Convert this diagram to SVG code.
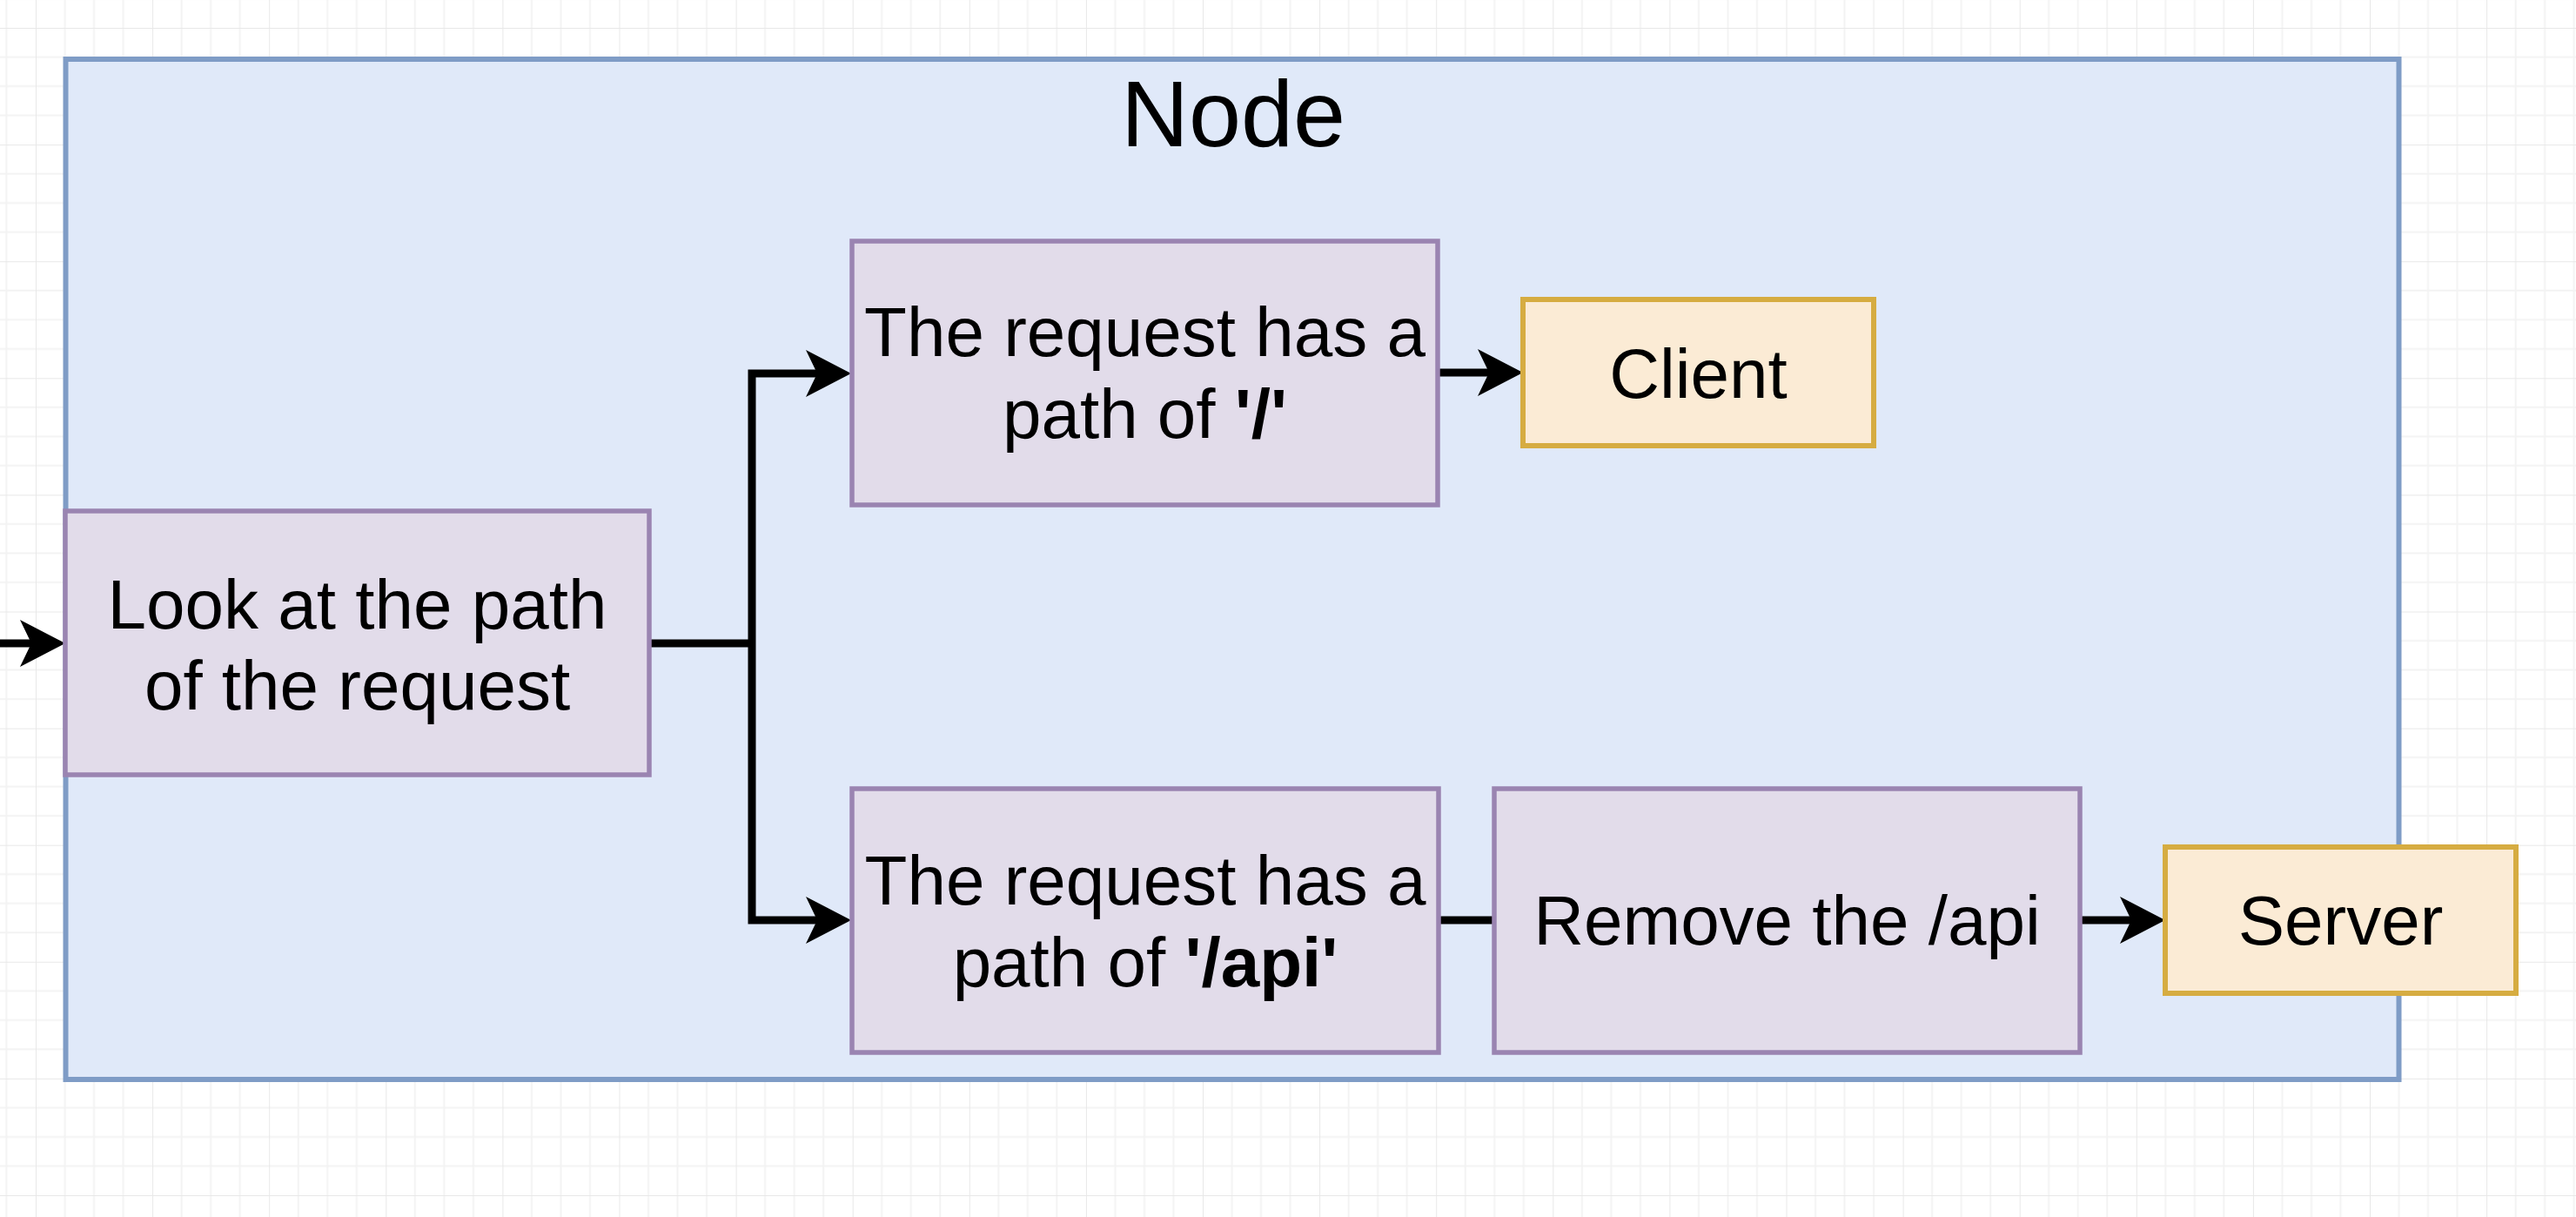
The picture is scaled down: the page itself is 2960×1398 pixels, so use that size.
<svg xmlns="http://www.w3.org/2000/svg" width="2960" height="1398" viewBox="0 0 2960 1398">
<style>
.lbl{font-family:"Liberation Sans",Arial,Helvetica,sans-serif;font-size:80px;fill:#000;text-anchor:middle}
.title{font-family:"Liberation Sans",Arial,Helvetica,sans-serif;font-size:108px;fill:#000;text-anchor:middle}
.proc{fill:#e2dcea;stroke:#9a84b1;stroke-width:5.5}
.term{fill:#fbebd5;stroke:#d6ac41;stroke-width:6}
.cont{fill:#e0e9f9;stroke:#7f9cc6;stroke-width:6}
.edge{fill:none;stroke:#000;stroke-width:9;stroke-linejoin:miter}
.b{font-weight:bold}
</style>
<defs>
<pattern id="grid" patternUnits="userSpaceOnUse" x="41" y="32" width="134.1" height="134.1">
<path d="M33.525 0V134.1M67.05 0V134.1M100.575 0V134.1M0 33.525H134.1M0 67.05H134.1M0 100.575H134.1" stroke="#f3f3f3" stroke-width="2" fill="none"/>
<path d="M0 0V134.1M0 0H134.1" stroke="#e8e8e8" stroke-width="2" fill="none"/>
</pattern>
<marker id="arr" viewBox="0 0 52 54" markerUnits="userSpaceOnUse" markerWidth="52" markerHeight="54" refX="13" refY="27" orient="auto">
<path d="M0,0 L52,27 L0,54 L13,27 Z" fill="#000"/>
</marker>
</defs>
<rect width="2960" height="1398" fill="#ffffff"/>
<rect width="2960" height="1398" fill="url(#grid)"/>

<g id="node-container">
<rect class="cont" x="75.5" y="68" width="2681" height="1172"/>
<text class="title" x="1417" y="168">Node</text>
</g>

<g id="connectors">
<path class="edge" d="M0,739 H36" marker-end="url(#arr)"/>
<path class="edge" d="M746,739 H864"/>
<path class="edge" d="M864,739 V429 H939" marker-end="url(#arr)"/>
<path class="edge" d="M864,739 V1057 H939" marker-end="url(#arr)"/>
<path class="edge" d="M1652,428 H1711" marker-end="url(#arr)"/>
<path class="edge" d="M1653,1057 H1717"/>
<path class="edge" d="M2390,1057 H2449" marker-end="url(#arr)"/>
</g>

<g id="look">
<rect class="proc" x="75" y="587" width="671" height="303"/>
<text class="lbl" x="410.5" y="722">Look at the path</text>
<text class="lbl" x="410.5" y="815">of the request</text>
</g>

<g id="path-root">
<rect class="proc" x="979" y="277" width="673" height="303"/>
<text class="lbl" x="1315.5" y="409">The request has a</text>
<text class="lbl" x="1315.5" y="503">path of <tspan class="b">'/'</tspan></text>
</g>

<g id="client">
<rect class="term" x="1750" y="344" width="403" height="168"/>
<text class="lbl" x="1951.5" y="457">Client</text>
</g>

<g id="path-api">
<rect class="proc" x="979" y="906" width="674" height="303"/>
<text class="lbl" x="1316" y="1039">The request has a</text>
<text class="lbl" x="1316" y="1133">path of <tspan class="b">'/api'</tspan></text>
</g>

<g id="remove">
<rect class="proc" x="1717" y="906" width="673" height="303"/>
<text class="lbl" x="2053.5" y="1085">Remove the /api</text>
</g>

<g id="server">
<rect class="term" x="2488" y="973" width="403" height="168"/>
<text class="lbl" x="2689.5" y="1085">Server</text>
</g>
</svg>
